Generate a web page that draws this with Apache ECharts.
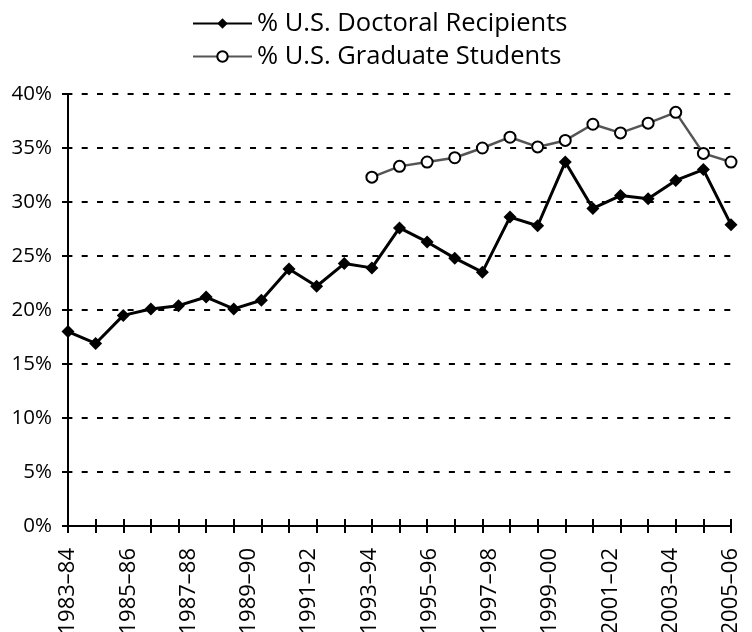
<!DOCTYPE html>
<html>
<head>
<meta charset="utf-8">
<script src="https://cdn.jsdelivr.net/npm/echarts@6/dist/echarts.min.js"></script>
<style>html,body{margin:0;padding:0;background:#fff}#c{width:752px;height:632px}</style>
</head>
<body>
<div id="c"></div>
<script>
// Year labels shown under the axis (evenly spread over the full range)
var yearLabels = ['1983\u201384','1985\u201386','1987\u201388','1989\u201390','1991\u201392','1993\u201394',
  '1995\u201396','1997\u201398','1999\u201300','2001\u201302','2003\u201304','2005\u201306'];
// 25 observations, evenly spaced
var doctoral = [18.0,16.9,19.5,20.1,20.4,21.2,20.1,20.9,23.8,22.2,24.3,23.9,
  27.6,26.3,24.8,23.5,28.6,27.8,33.7,29.4,30.6,30.3,32.0,33.0,27.9];
var graduate = [null,null,null,null,null,null,null,null,null,null,null,32.3,
  33.3,33.7,34.1,35.0,36.0,35.1,35.7,37.2,36.4,37.3,38.3,34.5,33.7];
var yTicks = {min:0, max:40, step:5};

var FONT = '"Open Sans", sans-serif';
function pairs(arr){
  var out=[];
  arr.forEach(function(v,i){ if(v!==null) out.push([i,v]); });
  return out;
}
var n = doctoral.length - 1;
var chart = echarts.init(document.getElementById('c'));
chart.setOption({
  animation:false,
  backgroundColor:'#fff',
  textStyle:{fontFamily:FONT},
  legend:{
    orient:'vertical', left:187, top:5,
    itemWidth:59, itemHeight:13, itemGap:6,
    textStyle:{fontFamily:FONT, fontSize:25.5, color:'#000', lineHeight:27},
    data:['% U.S. Doctoral Recipients','% U.S. Graduate Students']
  },
  grid:{left:68, right:21, top:94, bottom:106, containLabel:false, outerBoundsMode:'none'},
  xAxis:[
    {type:'value', min:0, max:n, interval:1, position:'bottom',
     axisLine:{show:true, onZero:false, lineStyle:{color:'#000', width:2}},
     axisTick:{show:true, inside:true, length:7, lineStyle:{color:'#000', width:2}},
     axisLabel:{show:false}, splitLine:{show:false}},
    {type:'value', min:0, max:n, interval:1, position:'bottom',
     axisLine:{show:false, onZero:false},
     axisTick:{show:true, inside:false, length:7, lineStyle:{color:'#000', width:2}},
     axisLabel:{show:false}, splitLine:{show:false}},
    {type:'value', min:0, max:yearLabels.length-1, interval:1, position:'bottom',
     axisLine:{show:false, onZero:false}, axisTick:{show:false}, splitLine:{show:false},
     axisLabel:{show:true, rotate:90, margin:22, fontSize:22, color:'#000', fontFamily:FONT,
       showMinLabel:true, showMaxLabel:true,
       formatter:function(v){ return yearLabels[Math.round(v)] || ''; }}}
  ],
  yAxis:{
    type:'value', min:yTicks.min, max:yTicks.max, interval:yTicks.step,
    axisLine:{show:true, lineStyle:{color:'#000', width:2}},
    axisTick:{show:true, inside:false, length:6, lineStyle:{color:'#000', width:2}},
    axisLabel:{formatter:'{value}%', fontSize:20.5, color:'#000', margin:16, fontFamily:FONT},
    splitLine:{show:true, lineStyle:{color:'#000', width:2, type:[6,9.3], dashOffset:1.6}}
  },
  series:[
    {name:'% U.S. Doctoral Recipients', type:'line', xAxisIndex:0,
     data:pairs(doctoral), symbol:'diamond', symbolSize:13,
     itemStyle:{color:'#000'}, lineStyle:{color:'#000', width:3}, z:3},
    {name:'% U.S. Graduate Students', type:'line', xAxisIndex:0,
     data:pairs(graduate), symbol:'circle', symbolSize:11,
     itemStyle:{color:'#fff', borderColor:'#000', borderWidth:2},
     lineStyle:{color:'#555', width:2.5}, z:4}
  ]
});
</script>
</body>
</html>
